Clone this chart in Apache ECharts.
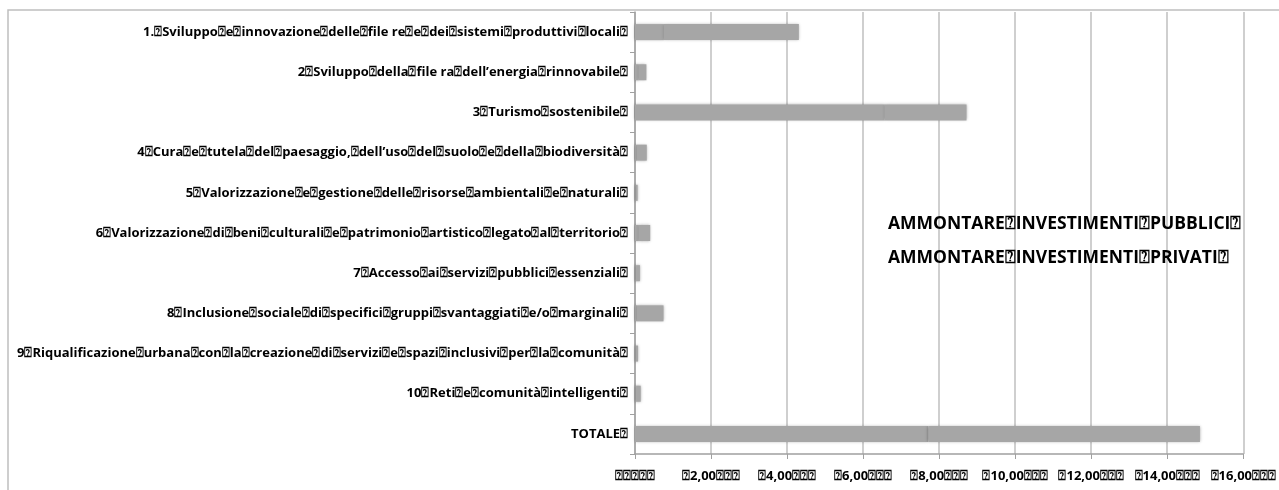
<!DOCTYPE html>
<html>
<head>
<meta charset="utf-8">
<script src="https://cdn.jsdelivr.net/npm/echarts@6/dist/echarts.min.js"></script>
<style>
  html, body { margin: 0; padding: 0; background: #fff; }
  #main_chart { width: 1279px; height: 490px; }
</style>
</head>
<body>
<div id="main_chart"></div>
<script>
var B = '\u2370';
var categories = [
    '1.' + B + 'Sviluppo' + B + 'e' + B + 'innovazione' + B + 'delle' + B + 'file re' + B + 'e' + B + 'dei' + B + 'sistemi' + B + 'produttivi' + B + 'locali' + B,
    '2' + B + 'Sviluppo' + B + 'della' + B + 'file ra' + B + 'dell\u2019energia' + B + 'rinnovabile' + B,
    '3' + B + 'Turismo' + B + 'sostenibile' + B,
    '4' + B + 'Cura' + B + 'e' + B + 'tutela' + B + 'del' + B + 'paesaggio,' + B + 'dell\u2019uso' + B + 'del' + B + 'suolo' + B + 'e' + B + 'della' + B + 'biodiversit\u00e0' + B,
    '5' + B + 'Valorizzazione' + B + 'e' + B + 'gestione' + B + 'delle' + B + 'risorse' + B + 'ambientali' + B + 'e' + B + 'naturali' + B,
    '6' + B + 'Valorizzazione' + B + 'di' + B + 'beni' + B + 'culturali' + B + 'e' + B + 'patrimonio' + B + 'artistico' + B + 'legato' + B + 'al' + B + 'territorio' + B,
    '7' + B + 'Accesso' + B + 'ai' + B + 'servizi' + B + 'pubblici' + B + 'essenziali' + B,
    '8' + B + 'Inclusione' + B + 'sociale' + B + 'di' + B + 'specifici' + B + 'gruppi' + B + 'svantaggiati' + B + 'e/o' + B + 'marginali' + B,
    '9' + B + 'Riqualificazione' + B + 'urbana' + B + 'con' + B + 'la' + B + 'creazione' + B + 'di' + B + 'servizi' + B + 'e' + B + 'spazi' + B + 'inclusivi' + B + 'per' + B + 'la' + B + 'comunit\u00e0' + B,
    '10' + B + 'Reti' + B + 'e' + B + 'comunit\u00e0' + B + 'intelligenti' + B,
    'TOTALE' + B
];
var seriesNames = [
    'AMMONTARE' + B + 'INVESTIMENTI' + B + 'PUBBLICI' + B,
    'AMMONTARE' + B + 'INVESTIMENTI' + B + 'PRIVATI' + B
];
// milioni di euro
var pubblici = [0.76, 0.10, 6.57, 0.05, 0.02, 0.10, 0.03, 0.05, 0.02, 0.03, 7.72];
var privati  = [3.55, 0.20, 2.15, 0.26, 0.05, 0.30, 0.10, 0.70, 0.06, 0.12, 7.14];
var xTicks = [0, 2, 4, 6, 8, 10, 12, 14, 16];

var FONT = '"Open Sans", "DejaVu Sans", sans-serif';

function tickLabel(v) {
    if (v === 0) return B + B + B + B + B;
    return B + v.toFixed(2).replace('.', ',') + B + B + B;
}

var mychart = echarts.init(document.getElementById('main_chart'));

var barStyle = {
    color: '#a6a6a6',
    shadowBlur: 3,
    shadowColor: 'rgba(0,0,0,0.35)'
};

var option = {
    animation: false,
    backgroundColor: '#ffffff',
    graphic: [{
        type: 'rect',
        shape: { x: 8, y: 10, width: 1400, height: 600 },
        style: { fill: 'none', stroke: '#bfbfbf', lineWidth: 1.5 },
        silent: true
    }],
    legend: {
        orient: 'vertical',
        left: 878,
        top: 210,
        itemGap: 16,
        itemWidth: 0,
        itemHeight: 0,
        icon: 'rect',
        data: seriesNames,
        textStyle: { fontFamily: FONT, fontWeight: 'bold', fontSize: 17.5, color: '#000' }
    },
    grid: { left: 635, right: 31, top: 12, bottom: 36, containLabel: false },
    xAxis: {
        type: 'value',
        min: xTicks[0],
        max: xTicks[xTicks.length - 1],
        interval: 2,
        axisLine: { show: true, lineStyle: { color: '#a0a0a0', width: 1.5 } },
        axisTick: { show: true, length: 5, lineStyle: { color: '#a0a0a0' } },
        splitLine: { show: true, lineStyle: { color: '#bfbfbf', width: 1.5 } },
        axisLabel: {
            margin: 16,
            fontFamily: FONT, fontWeight: 'bold', fontSize: 13, color: '#000',
            formatter: tickLabel
        }
    },
    yAxis: {
        type: 'category',
        inverse: true,
        data: categories,
        axisLine: { show: true, lineStyle: { color: '#a0a0a0', width: 1.5 } },
        axisTick: { show: true, length: 5, lineStyle: { color: '#a0a0a0' } },
        axisLabel: {
            margin: 7,
            fontFamily: FONT, fontWeight: 'bold', fontSize: 13, color: '#000'
        }
    },
    series: [
        { name: seriesNames[0], type: 'bar', stack: 'tot', barWidth: 16, data: pubblici, itemStyle: barStyle },
        { name: seriesNames[1], type: 'bar', stack: 'tot', barWidth: 16, data: privati, itemStyle: barStyle }
    ]
};
mychart.setOption(option);
</script>
</body>
</html>
